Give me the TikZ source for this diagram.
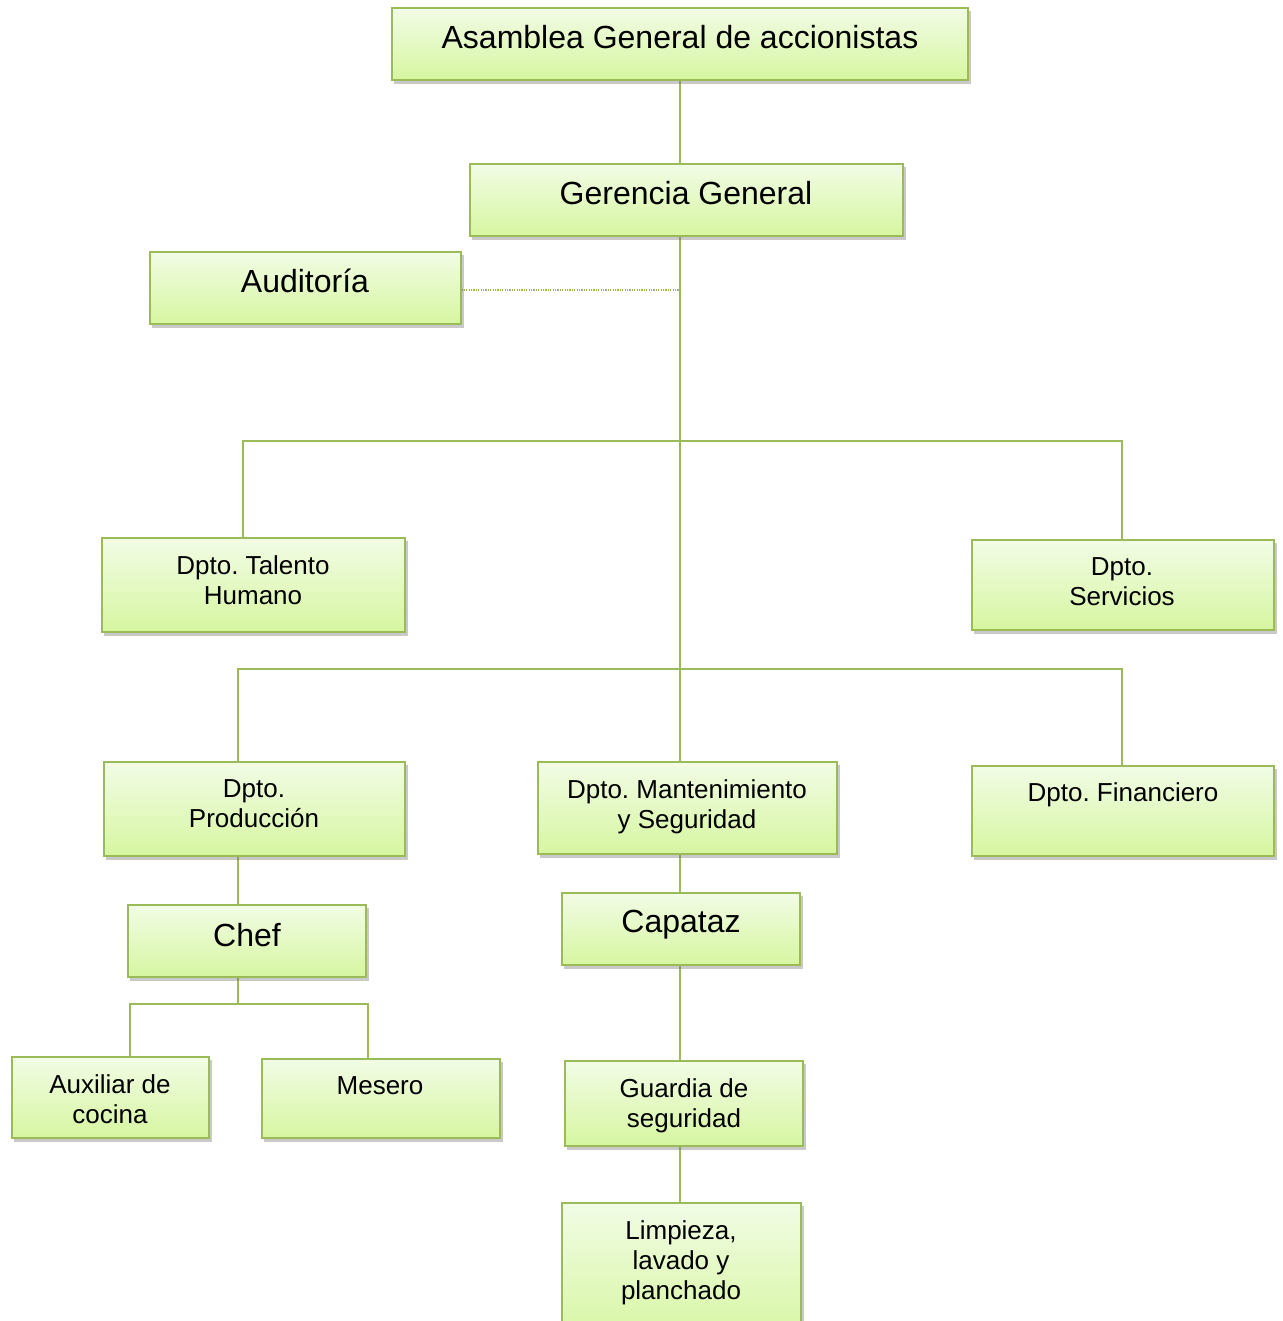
\documentclass[tikz,border=0pt]{standalone}
\usepackage{fontspec}
\setmainfont{Liberation Sans}
\frenchspacing
\usetikzlibrary{shadows}
\definecolor{lineg}{RGB}{155,187,89}
\definecolor{topg}{RGB}{242,252,230}
\definecolor{botg}{RGB}{214,246,160}
\tikzset{
  orgbox/.style={rectangle, draw=lineg, line width=1pt, top color=topg, bottom color=botg,
    drop shadow={opacity=0.35, shadow xshift=1.2pt, shadow yshift=-1.8pt, fill=black!60}, inner sep=0pt},
  bigtxt/.style={font=\fontsize{16}{19}\selectfont, align=center, inner sep=0pt},
  smalltxt/.style={font=\fontsize{13}{15}\selectfont, align=center, inner sep=0pt},
  conn/.style={draw=lineg, line width=1pt},
  dotconn/.style={draw=lineg, line width=0.7pt, dash pattern=on 0.6pt off 0.6pt}
}
\begin{document}
\begin{tikzpicture}[x=0.5pt, y=-0.5pt]
\useasboundingbox (0,0) rectangle (1282,1321);
\clip (0,0) rectangle (1282,1321);
\fill[white] (0,0) rectangle (1282,1321);
% boxes (layer order fixed below by drawing connectors on background first)
\begin{scope}
\path node[minimum width=288pt, minimum height=36pt] (asam) at (680,44) {};
\path node[minimum width=216.5pt, minimum height=36pt] (ger) at (686.5,200) {};
\path node[minimum width=155.5pt, minimum height=36pt] (aud) at (305.5,288) {};
\path node[minimum width=151.5pt, minimum height=47pt] (tal) at (253.5,585) {};
\path node[minimum width=151pt, minimum height=45pt] (serv) at (1123,585) {};
\path node[minimum width=150.5pt, minimum height=47pt] (prod) at (254.5,809) {};
\path node[minimum width=149.5pt, minimum height=46pt] (mant) at (687.5,808) {};
\path node[minimum width=151pt, minimum height=45pt] (fin) at (1123,811) {};
\path node[minimum width=119pt, minimum height=36pt] (chef) at (247,941) {};
\path node[minimum width=119pt, minimum height=36pt] (cap) at (681,929) {};
\path node[minimum width=98.5pt, minimum height=40.5pt] (aux) at (110.5,1097.5) {};
\path node[minimum width=119pt, minimum height=39.5pt] (mes) at (381,1098.5) {};
\path node[minimum width=119pt, minimum height=42.5pt] (guard) at (684,1103.5) {};
\path node[minimum width=119.5pt, minimum height=70pt] (limp) at (681.5,1273) {};
\end{scope}
% coordinates for connectors
\coordinate (j1) at (680,290);
\coordinate (tl) at (243,441);
\coordinate (sl) at (1122,441);
\coordinate (pl) at (238,669);
\coordinate (fl) at (1122,669);
\coordinate (cj) at (238,1004);
\coordinate (al) at (130,1004);
\coordinate (ml) at (368,1004);
% connectors
\draw[conn] (asam.south -| j1) -- (ger.north -| j1);
\draw[conn] (ger.south -| j1) -- (mant.north -| j1);
\draw[dotconn] (aud.east |- j1) -- (j1);
\draw[conn] (tal.north -| tl) -- (tl) -- (sl) -- (serv.north -| sl);
\draw[conn] (prod.north -| pl) -- (pl) -- (fl) -- (fin.north -| fl);
\draw[conn] (prod.south -| pl) -- (chef.north -| pl);
\draw[conn] (chef.south -| cj) -- (cj);
\draw[conn] (aux.north -| al) -- (al) -- (ml) -- (mes.north -| ml);
\draw[conn] (mant.south -| j1) -- (cap.north -| j1);
\draw[conn] (cap.south -| j1) -- (guard.north -| j1);
\draw[conn] (guard.south -| j1) -- (limp.north -| j1);
% visible boxes
\foreach \n in {asam,ger,aud,tal,serv,prod,mant,fin,chef,cap,aux,mes,guard,limp}{
  \path[orgbox] (\n.north west) rectangle (\n.south east);
}
% texts
\node[bigtxt] (tasam) at (680,37) {Asamblea General de accionistas};
\node[bigtxt] (tger) at (686,193) {Gerencia General};
\node[bigtxt] (taud) at (305,281) {Auditoría};
\node[smalltxt] (ttal) at (253,580) {Dpto. Talento\\Humano};
\node[smalltxt] (tserv) at (1122,581.5) {Dpto.\\Servicios};
\node[smalltxt] (tprod) at (254,804) {Dpto.\\Producción};
\node[smalltxt] (tmant) at (687,807) {Dpto. Mantenimiento\\y Seguridad};
\node[smalltxt] (tfin) at (1123,795) {Dpto. Financiero};
\node[bigtxt] (tchef) at (247,935) {Chef};
\node[bigtxt] (tcap) at (681,925) {Capataz};
\node[smalltxt] (taux) at (110,1099) {Auxiliar de\\cocina};
\node[smalltxt] (tmes) at (380,1086) {Mesero};
\node[smalltxt] (tguard) at (684,1106) {Guardia de\\seguridad};
\node[smalltxt] (tlimp) at (681,1263) {Limpieza,\\lavado y\\planchado};
\end{tikzpicture}
\end{document}
